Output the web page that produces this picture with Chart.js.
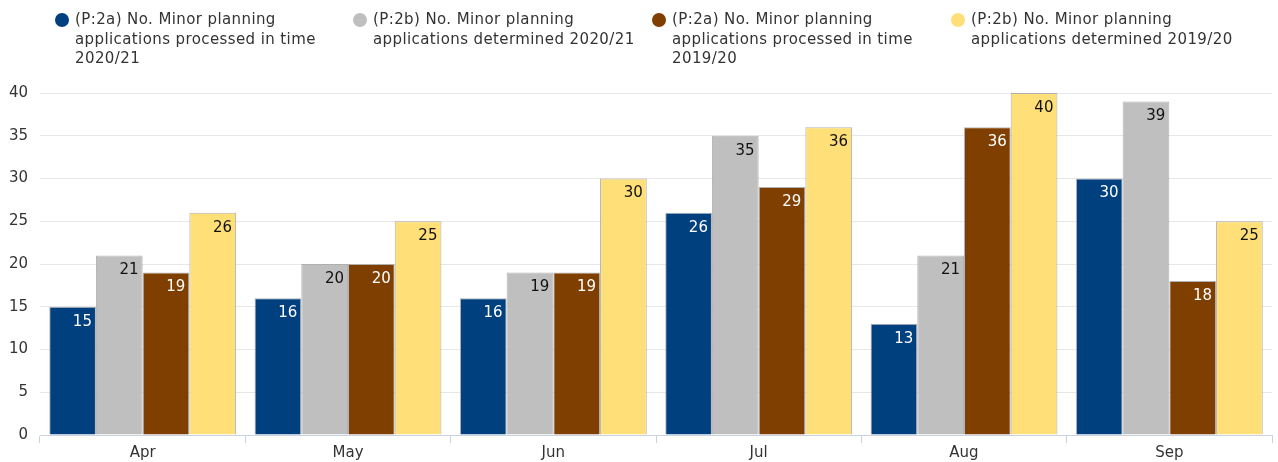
<!DOCTYPE html>
<html>
<head>
<meta charset="utf-8">
<script src="https://cdn.jsdelivr.net/npm/chart.js@4"></script>
<style>
  html, body { margin: 0; padding: 0; background: #fff; }
  #wrap { position: relative; width: 1278px; height: 462px; }
  .leg { position: absolute; top: 10px; font: 15px "DejaVu Sans", Verdana, sans-serif; letter-spacing: 0.4px; color: #333; line-height: 19.5px; white-space: nowrap; }
  .leg i { position: absolute; left: -20px; top: 3px; width: 14px; height: 14px; border-radius: 50%; }
</style>
</head>
<body>
<div id="wrap">
  <canvas id="myChart" width="1278" height="462"></canvas>
  <div id="legend"></div>
</div>
<script>
const months = ["Apr", "May", "Jun", "Jul", "Aug", "Sep"];

const inTime2021 = [15, 16, 16, 26, 13, 30];
const determined2021 = [21, 20, 19, 35, 21, 39];
const inTime1920 = [19, 20, 19, 29, 36, 18];
const determined1920 = [26, 25, 30, 36, 40, 25];

const seriesNames = [
  ["(P:2a) No. Minor planning", "applications processed in time", "2020/21"],
  ["(P:2b) No. Minor planning", "applications determined 2020/21"],
  ["(P:2a) No. Minor planning", "applications processed in time", "2019/20"],
  ["(P:2b) No. Minor planning", "applications determined 2019/20"],
];
const colors = ["#00407f", "#bfbfbf", "#7f3f00", "#ffdf77"];
const labelColors = ["#ffffff", "#111111", "#ffffff", "#111111"];
const legendX = [75, 373, 672, 971];

// html legend, the entries wrap over several lines
const legend = document.getElementById("legend");
seriesNames.forEach((lines, i) => {
  const d = document.createElement("div");
  d.className = "leg";
  d.style.left = legendX[i] + "px";
  d.innerHTML = '<i style="background:' + colors[i] + '"></i>' + lines.join("<br>");
  legend.appendChild(d);
});

// value written inside the top of each bar
const barValues = {
  id: "barValues",
  afterDatasetsDraw(chart) {
    const ctx = chart.ctx;
    ctx.save();
    ctx.font = '15px "DejaVu Sans", Verdana, sans-serif';
    ctx.textAlign = "right";
    ctx.textBaseline = "middle";
    chart.data.datasets.forEach((ds, i) => {
      ctx.fillStyle = labelColors[i];
      chart.getDatasetMeta(i).data.forEach((bar, j) => {
        ctx.fillText(ds.data[j], bar.x + bar.width / 2 - 4, bar.y + 15);
      });
    });
    ctx.restore();
  },
};

Chart.defaults.font.family = '"DejaVu Sans", Verdana, sans-serif';
Chart.defaults.font.size = 15;
Chart.defaults.color = "#333";

const datasets = [inTime2021, determined2021, inTime1920, determined1920].map((data, i) => ({
  label: seriesNames[i].join(" "),
  data: data,
  backgroundColor: colors[i],
  borderColor: "rgba(160,160,160,0.8)",
  borderWidth: 1,
  categoryPercentage: 0.91,
  barPercentage: 1,
}));

new Chart(document.getElementById("myChart"), {
  type: "bar",
  data: { labels: months, datasets: datasets },
  plugins: [barValues],
  options: {
    responsive: false,
    animation: false,
    layout: { padding: { top: 93, right: 6, left: 0, bottom: 0 } },
    plugins: { legend: { display: false }, tooltip: { enabled: false } },
    scales: {
      x: {
        offset: true,
        grid: { offset: true, drawOnChartArea: false, drawTicks: true, tickLength: 8, color: "#c9d3e0" },
        border: { color: "#c9d3e0" },
        ticks: { padding: 1, color: "#333" },
        afterFit: (s) => { s.height = 27; },
      },
      y: {
        min: 0,
        max: 40,
        ticks: { stepSize: 5, padding: 12, color: "#333" },
        grid: { color: "#e8e8e8", drawTicks: false },
        border: { display: false },
        afterFit: (s) => { s.width = 40; },
      },
    },
  },
});
</script>
</body>
</html>
